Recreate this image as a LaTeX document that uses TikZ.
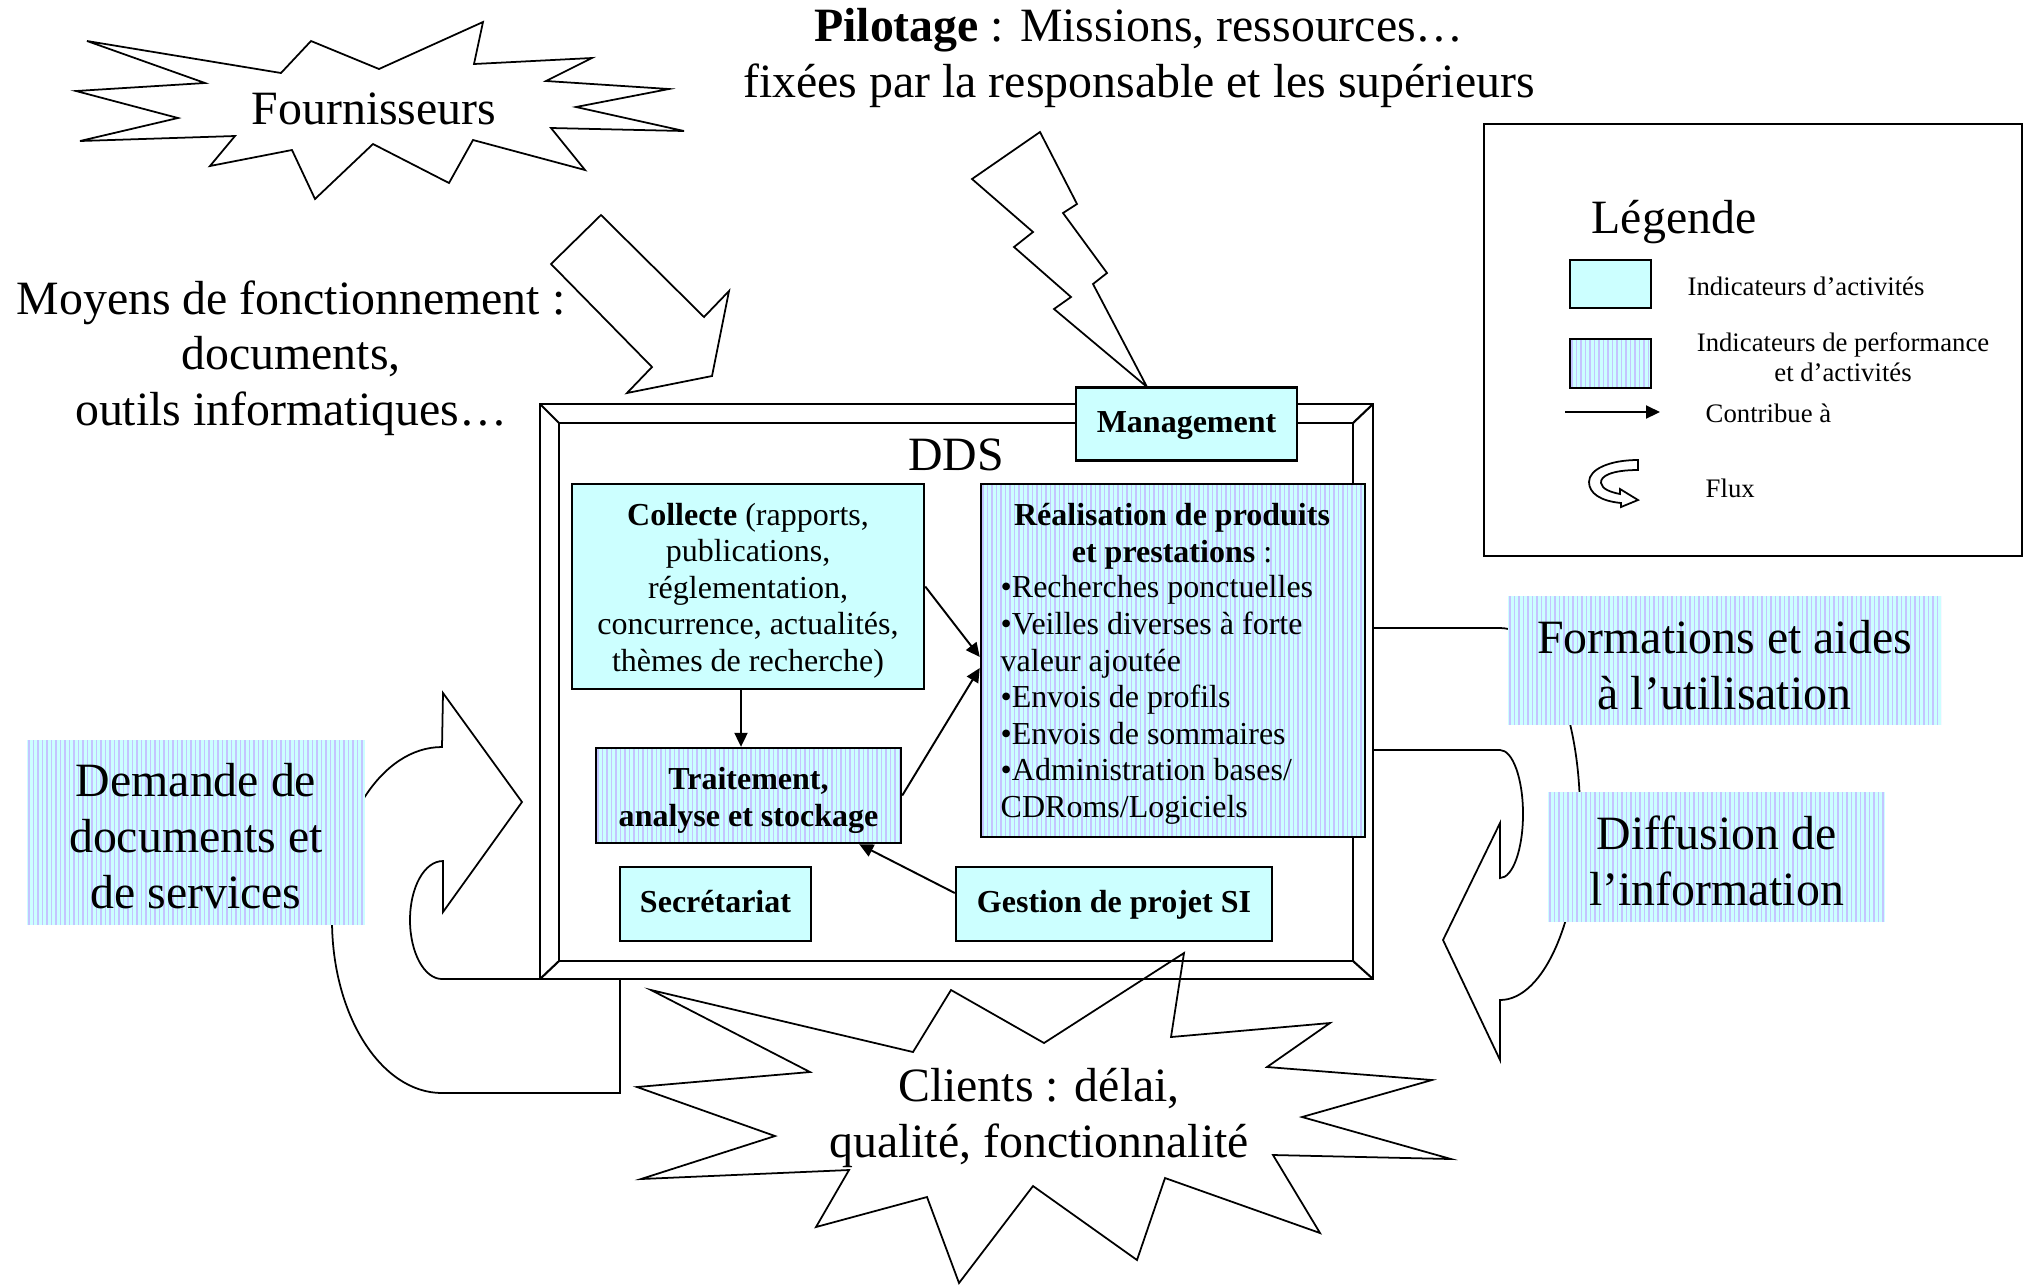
\documentclass[tikz,border=0pt]{standalone}
\usepackage{fontspec}
\setmainfont{Liberation Serif}
\usetikzlibrary{arrows.meta}
\definecolor{cyanbg}{RGB}{204,255,255}
\definecolor{stripecol}{RGB}{196,196,255}
\begin{document}
\begin{tikzpicture}[x=0.01cm,y=-0.01cm,
  big/.style={font=\fontsize{13.6}{15.85}\selectfont, align=center, inner sep=0},
  mid/.style={font=\fontsize{9.1}{10.4}\selectfont, align=center, inner sep=0},
  small/.style={font=\fontsize{7.6}{8.6}\selectfont, inner sep=0},
  shapeline/.style={draw=black, line width=0.5pt, fill=white, line join=miter},
  actbox/.style={draw=black, line width=0.65pt, fill=cyanbg, inner sep=0},
  perfpat/.style={fill=cyanbg, path picture={
      \foreach \k in {0.6,1.88,...,130}{
        \draw[stripecol, line width=0.45pt] ([xshift=\k pt]path picture bounding box.south west) -- ([xshift=\k pt]path picture bounding box.north west);
      }}},
  perfbox/.style={actbox, perfpat},
  perfplain/.style={perfpat, draw=none, inner sep=0},
  contrib/.style={-{Triangle[length=0.14cm,width=0.13cm]}, line width=0.55pt},
]
\useasboundingbox (0,0) rectangle (2031,1284);
\fill[white] (0,0) rectangle (2031,1284);

% Clients star
\draw[shapeline] (651,990) -- (913,1052) -- (951,990) -- (1044,1043) -- (1184,953) -- (1171,1037) -- (1330,1023) -- (1267,1067) -- (1432,1080) -- (1302,1117) -- (1451,1159) -- (1273,1155) -- (1320,1233) -- (1165,1178) -- (1137,1260) -- (1033,1186) -- (959,1283) -- (927,1197) -- (816,1227) -- (849,1170) -- (641,1179) -- (775,1136) -- (637,1087) -- (810,1072) -- cycle;

% Fournisseurs star
\draw[shapeline] (87,41) -- (281,73) -- (311,41) -- (379,69) -- (483,22) -- (474,64) -- (592,58) -- (546,81) -- (669,89) -- (576,107) -- (684,131) -- (551,128) -- (585,170) -- (473,140) -- (449,183) -- (373,144) -- (315,199) -- (292,150) -- (210,166) -- (235,136) -- (80,141) -- (178,118) -- (76,91) -- (205,83) -- cycle;

% Moyens block arrow
\draw[shapeline] (601,215) -- (704,317) -- (729,291) -- (712,376) -- (627,393) -- (652,367) -- (551,264) -- cycle;

% Lightning bolt
\draw[shapeline] (1040,132) -- (972,179) -- (1033,232) -- (1014,247) -- (1071,297) -- (1054,309) -- (1147,387) -- (1093,284) -- (1107,273) -- (1063,213) -- (1077,204) -- cycle;

% Left flux arrow
\draw[shapeline] (442,747) -- (443,693) -- (522,802) -- (443,912) -- (443,861)
  .. controls (424.3,861) and (410,887.4) .. (410,920)
  .. controls (410,952.6) and (424.3,979) .. (442,979)
  -- (620,979) -- (620,1093) -- (442,1093)
  .. controls (381.25,1093) and (332,1015.5) .. (332,920)
  .. controls (332,824.5) and (381.25,747) .. (442,747) -- cycle;

% Right flux arrow
\draw[shapeline] (1373,628) -- (1500,628)
  .. controls (1544.2,628) and (1580,711.3) .. (1580,814)
  .. controls (1580,916.7) and (1544.2,1000) .. (1500,1000)
  -- (1500,1060) -- (1443,940) -- (1500,823) -- (1500,878)
  .. controls (1512.7,878) and (1523,849.3) .. (1523,814)
  .. controls (1523,778.7) and (1512.7,750) .. (1500,750)
  -- (1373,750) -- cycle;

% DDS frame
\draw[line width=0.6pt] (540,404) rectangle (1373,979);
\draw[line width=0.6pt] (559,423) rectangle (1353,961);
\draw[line width=0.6pt] (540,404) -- (559,423) (1373,404) -- (1353,423) (540,979) -- (559,961) (1373,979) -- (1353,961);

% Boxes
\node[actbox, minimum width=2.21cm, minimum height=0.73cm, mid, text height=0.68em, text depth=0.22em] (mgmt) at (1186.5,424) {\textbf{Management}};
\node[big] (dds) at (956,455) {DDS};
\node[actbox, minimum width=3.52cm, minimum height=2.05cm] (coll) at (748,586.5) {};
\node[mid] (colltext) at (748,590.5)
  {\textbf{Collecte} (rapports,\\publications,\\réglementation,\\concurrence, actualités,\\thèmes de recherche)};
\node[perfbox, minimum width=3.84cm, minimum height=3.53cm] (real) at (1173,660.5) {};
\node[mid] (realtitle) at (1172,536) {\textbf{Réalisation de produits}\\\textbf{et prestations} :};
\node[mid, align=left, anchor=north west] (reallist) at (1000,575)
  {•Recherches ponctuelles\\•Veilles diverses à forte\\valeur ajoutée\\•Envois de profils\\•Envois de sommaires\\•Administration bases/\\CDRoms/Logiciels};
\node[perfbox, minimum width=3.05cm, minimum height=0.95cm] (trait) at (748.5,795.5) {};
\node[mid] (traittext) at (748.5,800.5) {\textbf{Traitement,}\\\textbf{analyse et stockage}};
\node[actbox, minimum width=1.91cm, minimum height=0.74cm, mid, text height=0.68em, text depth=0.22em] (secr) at (715.5,904) {\textbf{Secrétariat}};
\node[actbox, minimum width=3.16cm, minimum height=0.74cm, mid, text height=0.68em, text depth=0.22em] (gest) at (1114,904) {\textbf{Gestion de projet SI}};

% Contributions
\draw[contrib] ([xshift=-0.07cm]coll.south) -- ([xshift=-0.07cm]coll.south |- trait.north);
\draw[contrib] (coll.east) -- ([yshift=0.035cm]real.west);
\draw[contrib] (trait.east) -- ([yshift=-0.075cm]real.west);
\draw[contrib] ([yshift=0.11cm]gest.west) -- ([xshift=-0.43cm]trait.south east);

% Outside boxes
\node[perfplain, minimum width=3.38cm, minimum height=1.85cm] (dem) at (196,832.5) {};
\node[big] (demtext) at (196,836) {Demande de\\documents et\\de services};
\node[perfplain, minimum width=4.33cm, minimum height=1.29cm] (form) at (1724.5,660.5) {};
\node[big] (formtext) at (1724.5,665) {Formations et aides\\à l’utilisation};
\node[perfplain, minimum width=3.37cm, minimum height=1.30cm] (diff) at (1716.5,857) {};
\node[big] (difftext) at (1716.5,861) {Diffusion de\\l’information};

% Texts
\node[big] (fourn) at (374,109) {Fournisseurs};
\node[big] (moyens) at (291,358) {Moyens de fonctionnement :\\documents,\\outils informatiques…};
\node[big] (pilot) at (1139,58) {\textbf{Pilotage} : Missions, ressources…\\fixées par la responsable et les supérieurs};
\node[big] (clients) at (1039,1118) {Clients : délai,\\qualité, fonctionnalité};

% Legend
\draw[line width=0.6pt] (1484,124) rectangle (2022,556);
\node[big] (legtitle) at (1674,222) {Légende};
\node[actbox, minimum width=0.81cm, minimum height=0.48cm] (legact) at (1610.5,284) {};
\node[perfbox, minimum width=0.81cm, minimum height=0.49cm] (legperf) at (1610.5,363.5) {};
\node[small, anchor=west] (legacttxt) at (1687,286) {Indicateurs d’activités};
\node[small, align=center] (legperftxt) at (1843,357) {Indicateurs de performance\\et d’activités};
\coordinate (legA) at (1565,412);
\coordinate (legB) at (1660,412);
\draw[contrib] (legA) -- (legB);
\node[small, anchor=west] (legcontrib) at (1705,413) {Contribue à};
\draw[line width=0.5pt, fill=white] (1638,460) -- (1638,470) .. controls (1612,470) and (1600,476) .. (1601,483) .. controls (1602,489) and (1610,492) .. (1620,494) -- (1620,489) -- (1638,500) -- (1621,507) -- (1621,503) .. controls (1600,501) and (1589,493) .. (1589,482) .. controls (1589,469) and (1610,460) .. (1638,460) -- cycle;
\node[small, anchor=west] (legflux) at (1705,488) {Flux};
\end{tikzpicture}
\end{document}
